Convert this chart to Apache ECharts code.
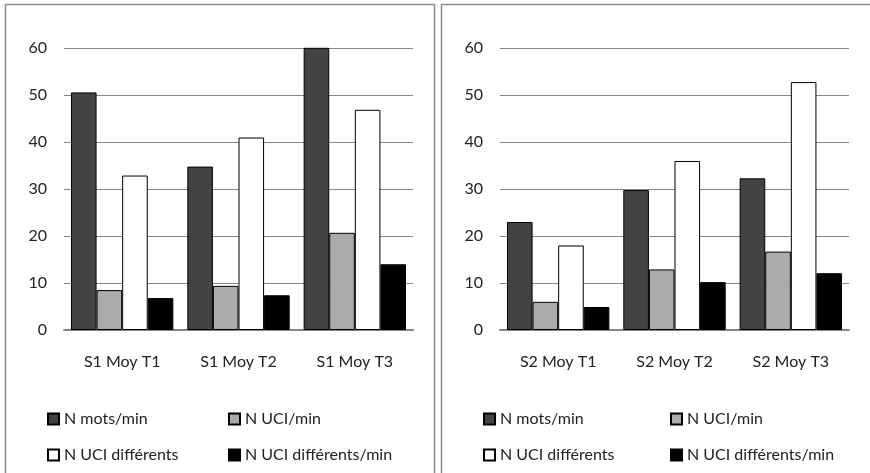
<!DOCTYPE html>
<html>
<head>
<meta charset="utf-8">
<script src="https://cdn.jsdelivr.net/npm/echarts@6/dist/echarts.min.js"></script>
<style>
  html, body { margin: 0; padding: 0; background: #fff; }
  #chart { width: 870px; height: 473px; }
</style>
</head>
<body>
<div id="chart"></div>
<script>
// Categories for each session
const s1Categories = ['S1 Moy T1', 'S1 Moy T2', 'S1 Moy T3'];
const s2Categories = ['S2 Moy T1', 'S2 Moy T2', 'S2 Moy T3'];

// Series names
const seriesNames = ['N mots/min', 'N UCI/min', 'N UCI différents', 'N UCI différents/min'];

// Session 1 values
const s1Mots = [50.6, 34.8, 60.2];
const s1Uci = [8.5, 9.4, 20.7];
const s1UciDiff = [32.9, 41.0, 46.9];
const s1UciDiffMin = [6.8, 7.4, 14.0];

// Session 2 values
const s2Mots = [23.0, 29.8, 32.3];
const s2Uci = [6.0, 12.9, 16.7];
const s2UciDiff = [18.0, 36.0, 52.8];
const s2UciDiffMin = [4.9, 10.2, 12.1];

// Value axis ticks
const yMin = 0, yMax = 60, yStep = 10;

const fills = ['#434343', '#ababab', '#ffffff', '#000000'];
const font = 'Lato, "Open Sans", sans-serif';
const textColor = '#222222';
const gridColor = '#868686';

function barSeries(name, data, idx, axisIdx) {
  return {
    type: 'bar',
    name: name,
    data: data,
    xAxisIndex: axisIdx,
    yAxisIndex: axisIdx,
    barGap: '0%',
    barCategoryGap: '12%',
    itemStyle: { color: fills[idx], borderColor: '#000', borderWidth: 1 },
    emphasis: { disabled: true }
  };
}

function catAxis(cats, gridIndex) {
  return {
    type: 'category',
    gridIndex: gridIndex,
    data: cats,
    axisTick: { show: false },
    axisLine: { lineStyle: { color: gridColor, width: 2 } },
    axisLabel: { color: textColor, fontFamily: font, fontSize: 16, margin: 24 }
  };
}

function valAxis(gridIndex) {
  return {
    type: 'value',
    gridIndex: gridIndex,
    min: yMin, max: yMax, interval: yStep,
    axisLine: { show: false },
    axisTick: { show: false },
    splitLine: { lineStyle: { color: gridColor, width: 1 } },
    axisLabel: { color: textColor, fontFamily: font, fontSize: 16, margin: 17 }
  };
}

function legendCol(names, left) {
  return {
    data: names,
    orient: 'vertical',
    left: left,
    top: 404,
    itemWidth: 11,
    itemHeight: 11,
    itemGap: 16,
    icon: 'rect',
    selectedMode: false,
    textStyle: { color: textColor, fontFamily: font, fontSize: 16, lineHeight: 20 }
  };
}

const chart = echarts.init(document.getElementById('chart'), null, { renderer: 'canvas' });

chart.setOption({
  animation: false,
  backgroundColor: '#fff',
  graphic: [
    { type: 'rect', shape: { x: 5.5, y: 4.5, width: 429, height: 480 },
      style: { fill: 'none', stroke: '#8c8c8c', lineWidth: 1.5 }, silent: true },
    { type: 'rect', shape: { x: 441.5, y: 4.5, width: 440, height: 480 },
      style: { fill: 'none', stroke: '#8c8c8c', lineWidth: 1.5 }, silent: true }
  ],
  grid: [
    { left: 64, width: 349, top: 48.3, height: 281.7 },
    { left: 500, width: 349, top: 48.3, height: 281.7 }
  ],
  xAxis: [catAxis(s1Categories, 0), catAxis(s2Categories, 1)],
  yAxis: [valAxis(0), valAxis(1)],
  legend: [
    legendCol([seriesNames[0], seriesNames[2]], 42),
    legendCol([seriesNames[1], seriesNames[3]], 223),
    legendCol([seriesNames[0], seriesNames[2]], 478),
    legendCol([seriesNames[1], seriesNames[3]], 665)
  ],
  series: [
    barSeries(seriesNames[0], s1Mots, 0, 0),
    barSeries(seriesNames[1], s1Uci, 1, 0),
    barSeries(seriesNames[2], s1UciDiff, 2, 0),
    barSeries(seriesNames[3], s1UciDiffMin, 3, 0),
    barSeries(seriesNames[0], s2Mots, 0, 1),
    barSeries(seriesNames[1], s2Uci, 1, 1),
    barSeries(seriesNames[2], s2UciDiff, 2, 1),
    barSeries(seriesNames[3], s2UciDiffMin, 3, 1)
  ]
});
</script>
</body>
</html>
